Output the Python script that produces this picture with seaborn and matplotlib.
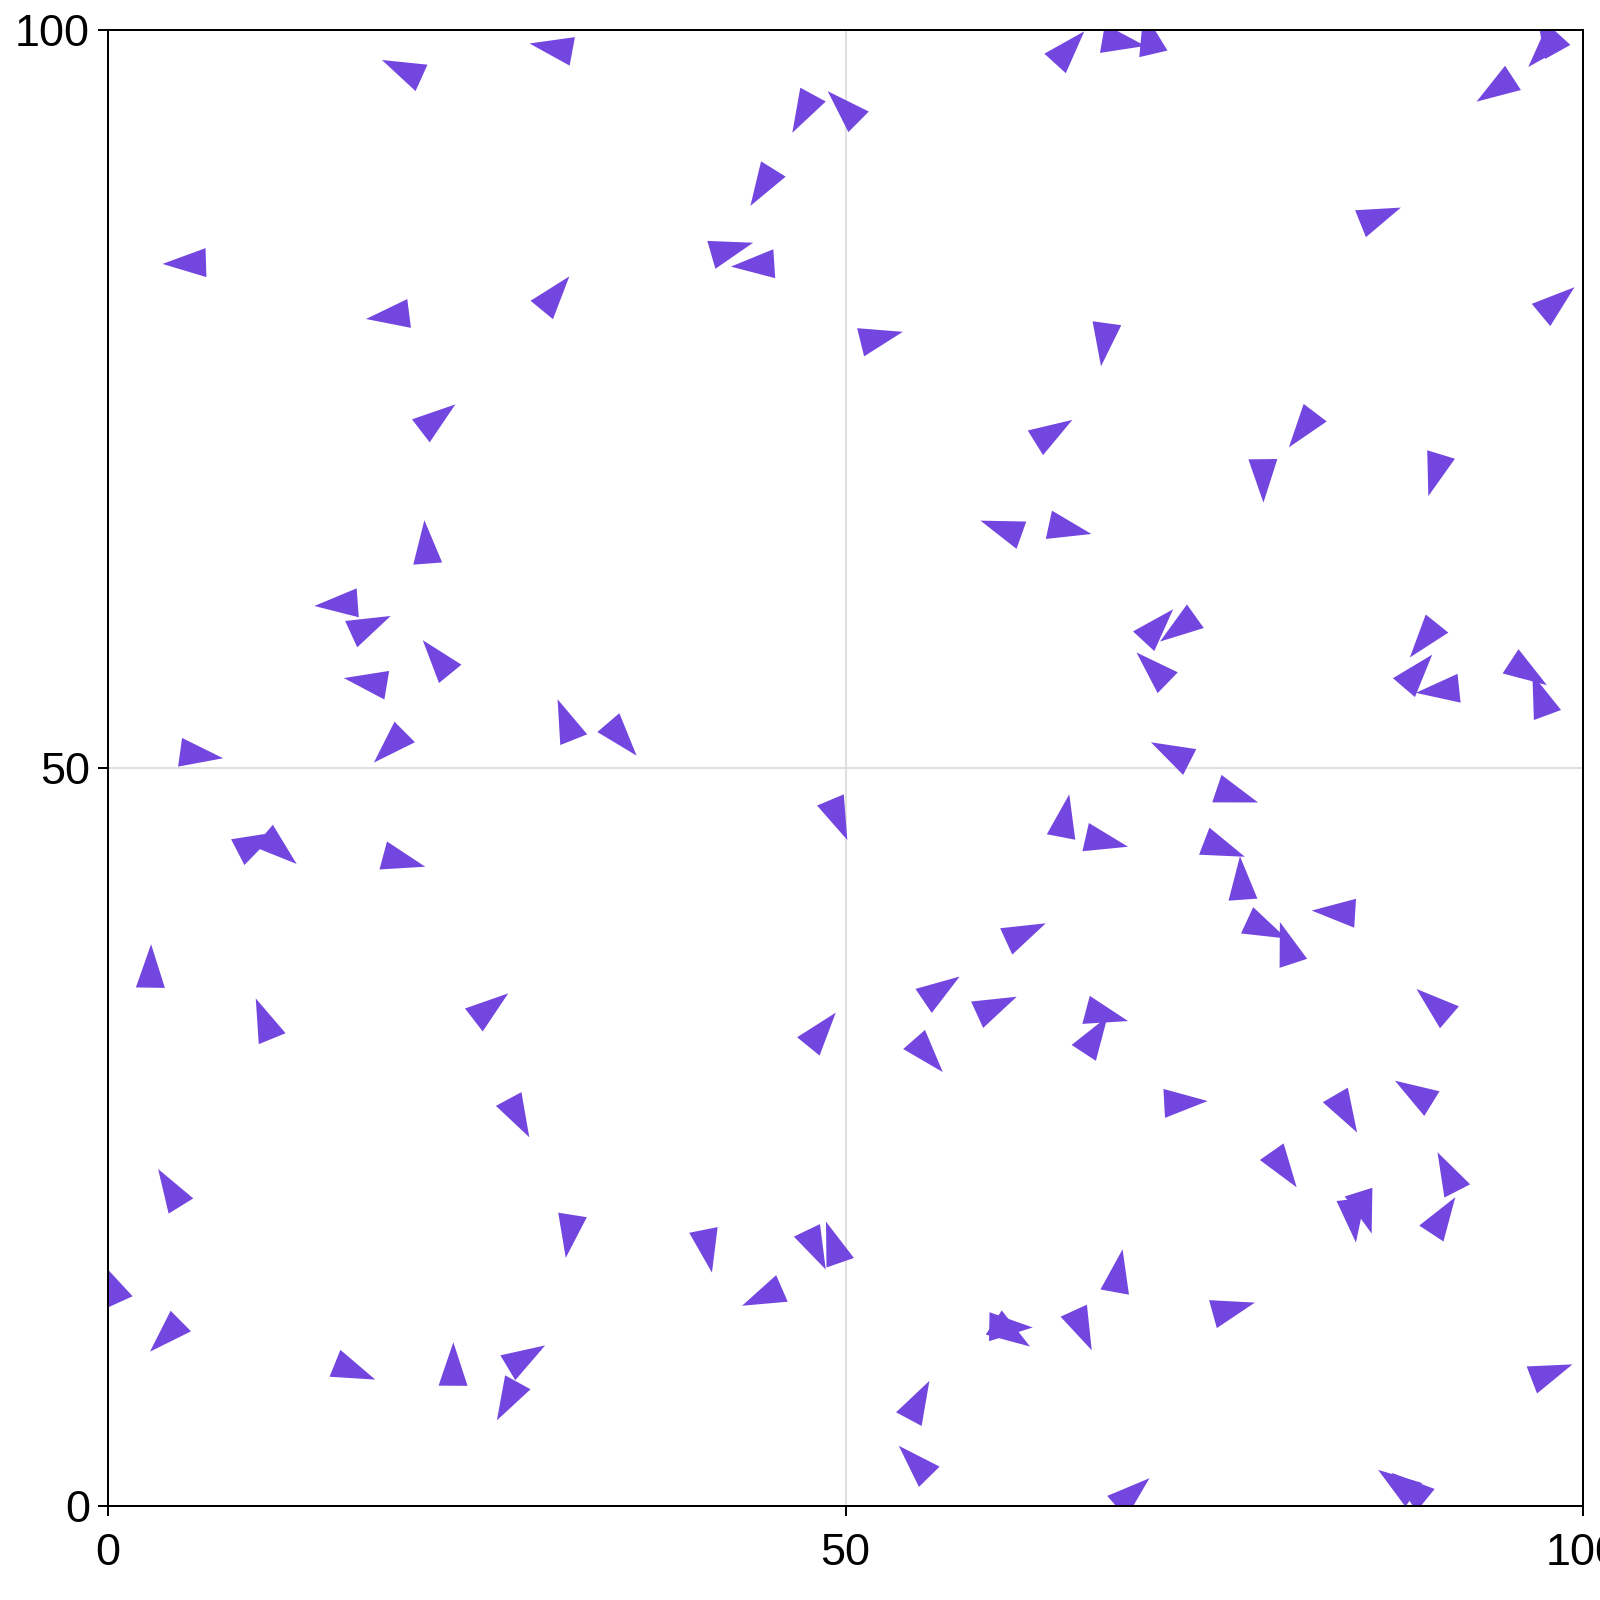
import matplotlib
matplotlib.use("Agg")
import matplotlib.pyplot as plt
from matplotlib.markers import MarkerStyle
from matplotlib.path import Path
from matplotlib.transforms import Affine2D
import seaborn as sns
import numpy as np
import pandas as pd

# point positions (data units)
x_vals = [20.36, 30.51, 5.66, 19.44, 30.03, 21.99, 64.87, 47.33, 50.19, 44.59,
          41.85, 44.19, 51.98, 63.71, 64.75, 68.39, 70.65, 94.43, 85.83, 97.91,
          67.59, 81.25, 78.31, 90.09, 97.62, 97.81, 21.60, 15.95, 17.38, 22.58,
          17.93, 19.42, 31.21, 5.86, 9.67, 11.29, 19.61, 2.89, 61.00, 34.56,
          49.36, 64.80, 61.79, 56.11, 59.82, 67.24, 70.88, 72.92, 71.14, 89.49,
          88.50, 90.62, 95.91, 97.25, 72.46, 76.11, 75.24, 76.88, 78.12, 80.06,
          83.57, 90.20, 67.26, 66.69, 72.59, 83.70, 88.92, 79.46, 91.03, 85.08,
          84.38, 90.26, 68.43, 75.86, 65.88, 97.45, 69.13, 88.56, 87.72, 10.76,
          25.58, 27.63, 4.43, 31.34, 0.37, 4.24, 16.30, 23.40, 27.95, 27.31,
          48.10, 55.30, 40.56, 47.81, 49.32, 44.79, 60.73, 60.87, 54.76, 54.99]
y_vals = [97.16, 98.73, 84.21, 80.67, 81.79, 73.44, 98.46, 94.76, 94.47, 89.75,
          85.04, 84.10, 79.08, 72.55, 66.27, 99.25, 99.34, 96.22, 87.24, 81.32,
          79.16, 73.29, 69.94, 70.30, 98.94, 99.37, 64.83, 61.12, 59.48, 57.14,
          55.77, 51.75, 52.83, 50.93, 44.75, 44.77, 43.82, 36.10, 66.10, 52.33,
          46.93, 46.29, 38.66, 34.77, 33.69, 45.10, 59.31, 59.71, 56.46, 59.02,
          56.19, 55.30, 56.69, 54.51, 50.85, 48.29, 44.69, 42.06, 39.27, 37.70,
          40.22, 33.75, 33.36, 31.52, 27.33, 27.00, 27.78, 23.20, 22.22, 20.33,
          19.80, 19.28, 15.46, 13.26, 12.34, 8.89, 0.59, 1.01, 1.32, 32.57,
          33.53, 26.71, 21.16, 18.75, 14.70, 11.84, 9.30, 9.13, 9.87, 7.52,
          31.90, 30.87, 17.74, 17.79, 17.41, 14.35, 12.13, 11.89, 6.75, 2.68]
# direction the tip of each triangle points to (degrees, counter-clockwise from +x)
angles = [155.7, 169.5, 181.7, 187.3, 50.6, 37.5, 47.7, 241.5, 135.2, 238.1,
          16.2, 183.8, 13.9, 31.8, 347.8, 350.3, 103.1, 213.2, 21.8, 39.7,
          262.2, 232.8, 270.7, 253.0, 227.5, 119.1, 94.4, 184.2, 24.7, 129.2,
          170.5, 224.8, 111.8, 352.1, 27.3, 319.7, 345.0, 89.1, 160.4, 310.5,
          292.8, 79.1, 24.6, 34.1, 24.5, 347.2, 47.3, 215.6, 135.9, 231.3,
          49.4, 186.1, 326.7, 110.3, 153.0, 341.4, 339.0, 94.0, 335.2, 108.1,
          176.5, 139.3, 345.1, 56.8, 3.1, 300.1, 148.2, 305.0, 117.1, 287.5,
          276.6, 56.6, 79.6, 15.4, 294.5, 21.0, 41.2, 140.9, 145.0, 112.2,
          37.7, 298.3, 121.7, 261.0, 114.3, 224.8, 338.0, 89.6, 30.9, 241.2,
          50.9, 311.3, 281.3, 295.7, 109.1, 203.5, 359.0, 326.5, 61.8, 134.5]

df = pd.DataFrame({"x": x_vals, "y": y_vals, "angle": angles})
df["id"] = np.arange(len(df))

# narrow triangle, centroid at the origin, tip pointing up
tri = Path([(0, 29), (-14.5, -14.5), (14.5, -14.5), (0, 29)],
           [Path.MOVETO, Path.LINETO, Path.LINETO, Path.CLOSEPOLY])
markers = {i: MarkerStyle(tri, transform=Affine2D().rotate_deg(a - 90))
           for i, a in zip(df["id"], df["angle"])}

sns.set_style("white")
plt.rcParams["font.family"] = ["Liberation Sans", "DejaVu Sans"]

fig = plt.figure(figsize=(16, 16), dpi=100)
ax = fig.add_axes([0.0675, 0.05875, 0.921875, 0.9225])

sns.scatterplot(data=df, x="x", y="y", style="id", markers=markers, s=1744,
                color="#7346e0", linewidth=0, edgecolor="none", legend=False, ax=ax)

ax.set_xlim(0, 100)
ax.set_ylim(0, 100)
ax.set_xticks([0, 50, 100])
ax.set_yticks([0, 50, 100])
ax.set_xlabel("")
ax.set_ylabel("")
ax.grid(True, color="#e0e0e0", linewidth=1.44)
ax.set_axisbelow(True)
for sp in ax.spines.values():
    sp.set_color("black")
    sp.set_linewidth(1.44)
ax.tick_params(axis="both", direction="out", length=7.5, width=1.44,
               labelsize=32.4, colors="black", bottom=True, left=True)
ax.tick_params(axis="x", pad=12)
ax.tick_params(axis="y", pad=5.5)

fig.savefig("out.png", dpi=100)
